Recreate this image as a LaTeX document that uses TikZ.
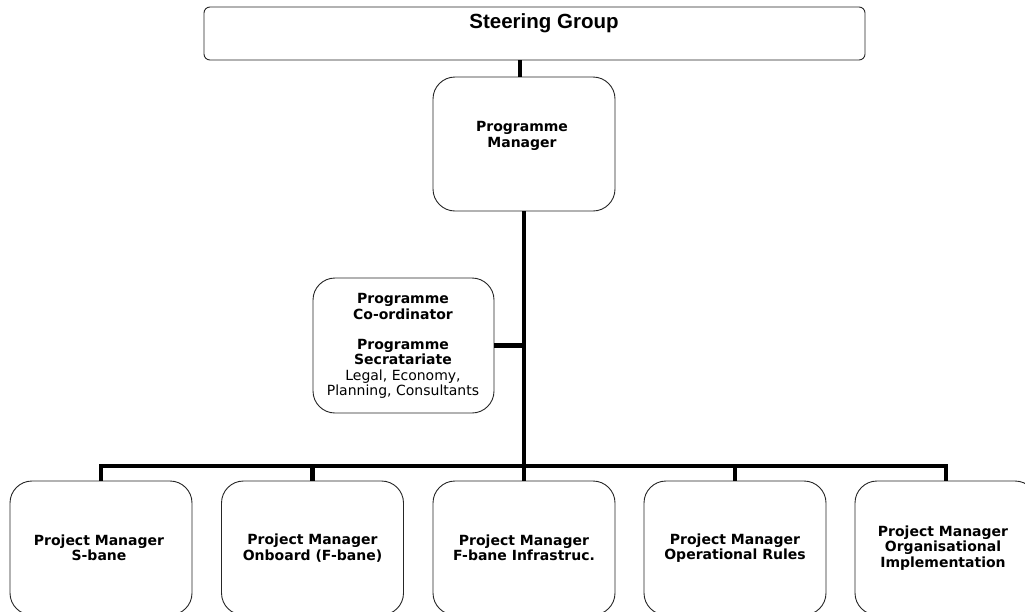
\documentclass[tikz,border=0pt]{standalone}
\usepackage{fontspec}
\setmainfont{DejaVu Sans}
\newfontfamily\arialfont{Liberation Sans}
\begin{document}
\begin{tikzpicture}[x=1pt,y=-1pt,
  box/.style={draw=black!85, line width=0.9pt, rounded corners=22pt, minimum width=182pt, minimum height=134pt, inner sep=0pt, fill=white},
  lbl/.style={font=\fontsize{14}{15.3}\selectfont\bfseries, align=center, inner sep=0pt},
  conn/.style={line width=4.5pt}]
\useasboundingbox (0,0) rectangle (1025,611);
% steering group
\node[draw=black!85, line width=0.9pt, rounded corners=6pt, minimum width=661pt, minimum height=53pt, inner sep=0pt] (sg) at (534.5,33.5) {};
\node[font=\arialfont\fontsize{20.5}{22}\selectfont\bfseries, inner sep=0pt] (sgt) at (544,23) {Steering Group};
% programme manager
\node[box] (pm) at (524,144) {};
\node[lbl] (pmt) at (522,136) {Programme\\Manager};
% coordinator
\node[box, minimum height=135pt, minimum width=181pt] (co) at (403.5,345.5) {};
\node[lbl, font=\fontsize{14}{15.3}\selectfont] (cot) at (403,346) {\textbf{Programme}\\\textbf{Co-ordinator}\\[15pt]\textbf{Programme}\\\textbf{Secratariate}\\Legal, Economy,\\Planning, Consultants};
% project managers
\node[box] (p1) at (101,548) {};
\node[box] (p2) at (312.5,548) {};
\node[box] (p3) at (524,548) {};
\node[box] (p4) at (735,548) {};
\node[box] (p5) at (946,548) {};
\node[lbl] (t1) at (99,548) {Project Manager\\S-bane};
\node[lbl] (t2) at (312.5,548) {Project Manager\\Onboard (F-bane)};
\node[lbl] (t3) at (524,548) {Project Manager\\F-bane Infrastruc.};
\node[lbl] (t4) at (735,548) {Project Manager\\Operational Rules};
\node[lbl] (t5) at (943,548) {Project Manager\\Organisational\\Implementation};
% connectors
\coordinate (bus) at (0,466);
\coordinate (pmtop) at ([xshift=-4pt]pm.north);
\draw[conn] (sg.south -| pmtop) -- (pmtop);
\draw[conn] (pm.south) -- (pm.south |- bus);
\draw[conn] (co.east) -- (co.east -| pm.south);
\draw[conn, line cap=rect] (p1.north |- bus) -- (p5.north |- bus);
\foreach \p in {p1,p2,p3,p4,p5} \draw[conn] (\p.north |- bus) -- (\p.north);
\end{tikzpicture}
\end{document}
